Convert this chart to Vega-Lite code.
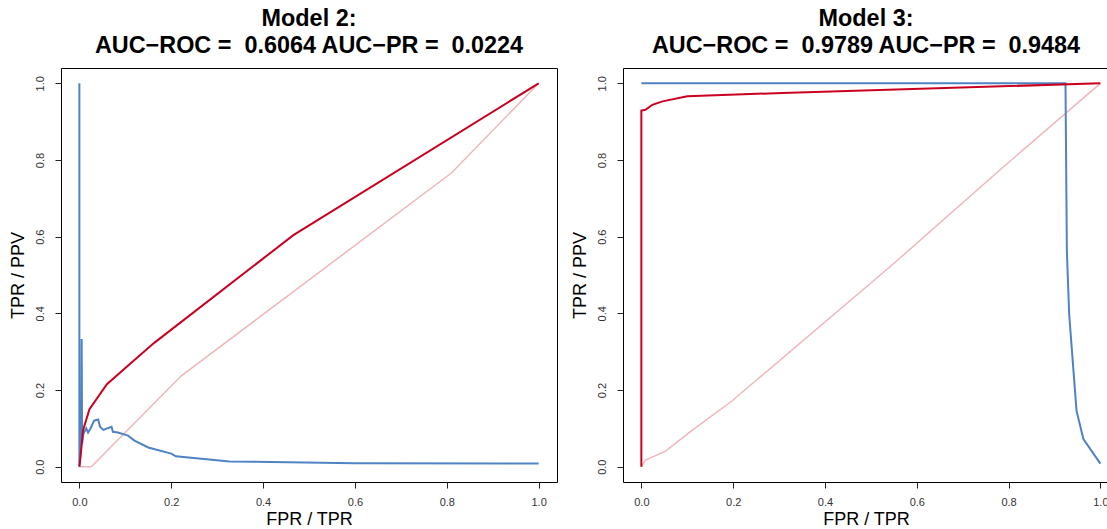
{
  "$schema": "https://vega.github.io/schema/vega-lite/v6.json",
  "padding": {"left": 8, "top": 6, "right": 0, "bottom": 0},
  "background": "white",
  "spacing": 13,
  "config": {
    "font": "Liberation Sans",
    "view": {"stroke": "#000", "strokeWidth": 1},
    "axis": {
      "grid": false, "domain": false, "domainColor": "#000", "domainWidth": 1,
      "tickColor": "#222", "tickSize": 6, "tickWidth": 1,
      "labelFont": "Liberation Sans", "labelFontSize": 11, "labelColor": "#333",
      "labelFlush": false, "labelOverlap": false, "labelBound": false,
      "titleFont": "Liberation Sans", "titleFontSize": 18, "titleFontWeight": "normal", "titleColor": "#000"
    },
    "title": {"font": "Liberation Sans", "fontSize": 23.4, "fontWeight": "bold", "color": "#000", "lineHeight": 27, "offset": 10, "anchor": "middle"}
  },
  "datasets": {
    "m2": [
      {"s": "base", "i": 0, "x": 0, "y": 0},
      {"s": "base", "i": 1, "x": 0.026, "y": 0},
      {"s": "base", "i": 2, "x": 0.222, "y": 0.237},
      {"s": "base", "i": 3, "x": 0.81, "y": 0.766},
      {"s": "base", "i": 4, "x": 1, "y": 1},
      {"s": "pr", "i": 0, "x": 0, "y": 1},
      {"s": "pr", "i": 1, "x": 0, "y": 0},
      {"s": "pr", "i": 2, "x": 0.004, "y": 0.06},
      {"s": "pr", "i": 3, "x": 0.005, "y": 0.333},
      {"s": "pr", "i": 4, "x": 0.006, "y": 0.06},
      {"s": "pr", "i": 5, "x": 0.0087, "y": 0.086},
      {"s": "pr", "i": 6, "x": 0.015, "y": 0.1},
      {"s": "pr", "i": 7, "x": 0.019, "y": 0.089},
      {"s": "pr", "i": 8, "x": 0.024, "y": 0.099},
      {"s": "pr", "i": 9, "x": 0.032, "y": 0.12},
      {"s": "pr", "i": 10, "x": 0.041, "y": 0.123},
      {"s": "pr", "i": 11, "x": 0.045, "y": 0.104},
      {"s": "pr", "i": 12, "x": 0.052, "y": 0.096},
      {"s": "pr", "i": 13, "x": 0.07, "y": 0.104},
      {"s": "pr", "i": 14, "x": 0.073, "y": 0.091},
      {"s": "pr", "i": 15, "x": 0.084, "y": 0.089},
      {"s": "pr", "i": 16, "x": 0.106, "y": 0.081},
      {"s": "pr", "i": 17, "x": 0.12, "y": 0.068},
      {"s": "pr", "i": 18, "x": 0.15, "y": 0.05},
      {"s": "pr", "i": 19, "x": 0.2, "y": 0.034},
      {"s": "pr", "i": 20, "x": 0.21, "y": 0.027},
      {"s": "pr", "i": 21, "x": 0.327, "y": 0.0135},
      {"s": "pr", "i": 22, "x": 0.6, "y": 0.009},
      {"s": "pr", "i": 23, "x": 1, "y": 0.008},
      {"s": "roc", "i": 0, "x": 0, "y": 0},
      {"s": "roc", "i": 1, "x": 0.002, "y": 0.02},
      {"s": "roc", "i": 2, "x": 0.008, "y": 0.095},
      {"s": "roc", "i": 3, "x": 0.022, "y": 0.15},
      {"s": "roc", "i": 4, "x": 0.06, "y": 0.215},
      {"s": "roc", "i": 5, "x": 0.11, "y": 0.268},
      {"s": "roc", "i": 6, "x": 0.163, "y": 0.323},
      {"s": "roc", "i": 7, "x": 0.466, "y": 0.604},
      {"s": "roc", "i": 8, "x": 1, "y": 1}
    ],
    "m3": [
      {"s": "base", "i": 0, "x": 0, "y": 0},
      {"s": "base", "i": 1, "x": 0.009, "y": 0.017},
      {"s": "base", "i": 2, "x": 0.052, "y": 0.04},
      {"s": "base", "i": 3, "x": 0.104, "y": 0.089},
      {"s": "base", "i": 4, "x": 0.198, "y": 0.172},
      {"s": "base", "i": 5, "x": 0.249, "y": 0.224},
      {"s": "base", "i": 6, "x": 0.55, "y": 0.53},
      {"s": "base", "i": 7, "x": 0.786, "y": 0.779},
      {"s": "base", "i": 8, "x": 1, "y": 1},
      {"s": "pr", "i": 0, "x": 0, "y": 1},
      {"s": "pr", "i": 1, "x": 0.924, "y": 1},
      {"s": "pr", "i": 2, "x": 0.927, "y": 0.5625},
      {"s": "pr", "i": 3, "x": 0.932, "y": 0.398},
      {"s": "pr", "i": 4, "x": 0.948, "y": 0.146},
      {"s": "pr", "i": 5, "x": 0.963, "y": 0.072},
      {"s": "pr", "i": 6, "x": 1, "y": 0.008},
      {"s": "roc", "i": 0, "x": 0, "y": 0},
      {"s": "roc", "i": 1, "x": 0, "y": 0.929},
      {"s": "roc", "i": 2, "x": 0.009, "y": 0.931},
      {"s": "roc", "i": 3, "x": 0.024, "y": 0.944},
      {"s": "roc", "i": 4, "x": 0.046, "y": 0.953},
      {"s": "roc", "i": 5, "x": 0.1, "y": 0.966},
      {"s": "roc", "i": 6, "x": 0.307, "y": 0.975},
      {"s": "roc", "i": 7, "x": 1, "y": 1}
    ]
  },
  "hconcat": [
    {
      "width": 496,
      "height": 414,
      "title": {"text": ["Model 2:", "AUC−ROC = \u00a00.6064 AUC−PR = \u00a00.0224"]},
      "data": {"name": "m2"},
      "encoding": {
        "x": {"field": "x", "type": "quantitative",
          "scale": {"domain": [-0.04, 1.04], "nice": false, "zero": false},
          "axis": {"values": [0, 0.2, 0.4, 0.6, 0.8, 1], "format": ".1f", "title": "FPR / TPR", "labelPadding": 8, "titlePadding": 3}},
        "y": {"field": "y", "type": "quantitative",
          "scale": {"domain": [-0.04, 1.04], "nice": false, "zero": false},
          "axis": {"values": [0, 0.2, 0.4, 0.6, 0.8, 1], "format": ".1f", "title": "TPR / PPV", "labelAngle": -90, "labelAlign": "center", "labelBaseline": "bottom", "labelPadding": 10, "titlePadding": 7}},
        "order": {"field": "i", "type": "quantitative"}
      },
      "layer": [
        {"transform": [{"filter": "datum.s === 'base'"}], "mark": {"type": "line", "color": "#F0B6BC", "strokeWidth": 1.5}},
        {"transform": [{"filter": "datum.s === 'pr'"}], "mark": {"type": "line", "color": "#4F83C3", "strokeWidth": 2}},
        {"transform": [{"filter": "datum.s === 'roc'"}], "mark": {"type": "line", "color": "#CA0020", "strokeWidth": 2}}
      ]
    },
    {
      "width": 486,
      "height": 414,
      "view": {"stroke": null},
      "title": {"text": ["Model 3:", "AUC−ROC = \u00a00.9789 AUC−PR = \u00a00.9484"]},
      "data": {"name": "m3"},
      "resolve": {"axis": {"x": "independent"}},
      "encoding": {
        "y": {"field": "y", "type": "quantitative",
          "scale": {"domain": [-0.04, 1.04], "nice": false, "zero": false},
          "axis": {"values": [0, 0.2, 0.4, 0.6, 0.8, 1], "format": ".1f", "title": "TPR / PPV", "domain": true, "labelAngle": -90, "labelAlign": "center", "labelBaseline": "bottom", "labelPadding": 10, "titlePadding": 7}},
        "order": {"field": "i", "type": "quantitative"}
      },
      "layer": [
        {"transform": [{"filter": "datum.s === 'base'"}], "mark": {"type": "line", "color": "#F0B6BC", "strokeWidth": 1.5},
          "encoding": {"x": {"field": "x", "type": "quantitative",
            "scale": {"domain": [-0.04, 1.0188], "nice": false, "zero": false},
            "axis": {"values": [0, 0.2, 0.4, 0.6, 0.8, 1], "format": ".1f", "title": "FPR / TPR", "domain": true, "labelPadding": 8, "titlePadding": 3}}}},
        {"transform": [{"filter": "datum.s === 'pr'"}], "mark": {"type": "line", "color": "#4F83C3", "strokeWidth": 2},
          "encoding": {"x": {"field": "x", "type": "quantitative",
            "axis": {"orient": "top", "domain": true, "ticks": false, "labels": false, "title": null, "minExtent": 0, "maxExtent": 0}}}},
        {"transform": [{"filter": "datum.s === 'roc'"}], "mark": {"type": "line", "color": "#CA0020", "strokeWidth": 2},
          "encoding": {"x": {"field": "x", "type": "quantitative", "axis": null}}}
      ]
    }
  ]
}
